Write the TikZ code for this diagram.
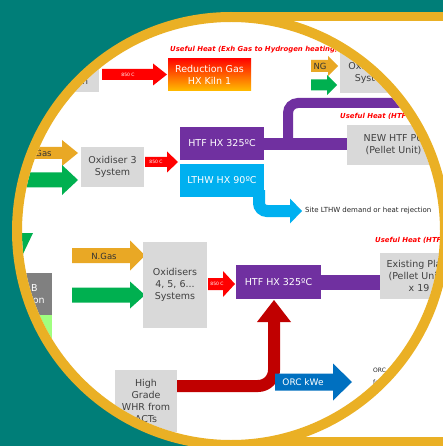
\documentclass[tikz,border=0pt]{standalone}
\usepackage{fontspec}
\setmainfont{DejaVu Sans}
\definecolor{tealbg}{HTML}{007E78}
\definecolor{goldring}{HTML}{EAB025}
\definecolor{boxgrey}{HTML}{D9D9D9}
\definecolor{purp}{HTML}{7030A0}
\definecolor{lblue}{HTML}{00B0F0}
\definecolor{gasgold}{HTML}{E9A825}
\definecolor{grn}{HTML}{00B050}
\definecolor{dred}{HTML}{C00000}
\definecolor{orcblue}{HTML}{0070C0}
\definecolor{txtgrey}{HTML}{404040}
\definecolor{darkbox}{HTML}{808080}
\definecolor{palegreen}{HTML}{A0FF80}
% block arrow pointing right: colour, x tail, x tip, x head start, y centre, body half, head half
\newcommand{\barR}[7]{\fill[#1] (#2,#5-#6) -- (#4,#5-#6) -- (#4,#5-#7) -- (#3,#5) -- (#4,#5+#7) -- (#4,#5+#6) -- (#2,#5+#6) -- cycle;}
\tikzset{
  gbox/.style={fill=boxgrey, text=txtgrey, align=center, inner sep=0pt, font=\fontsize{9.5}{12}\selectfont},
  wtxt/.style={text=white, align=center, inner sep=0pt, font=\fontsize{9.5}{12}\selectfont},
  tinylbl/.style={text=white, inner sep=0pt, font=\fontsize{4.5}{5}\selectfont},
  useful/.style={text=red, inner sep=0pt, anchor=west, font=\fontsize{6.9}{8}\selectfont\bfseries\itshape},
  arrlbl/.style={text=black!80, inner sep=0pt, font=\fontsize{8.5}{10}\selectfont},
}
\begin{document}
\begin{tikzpicture}[x=1pt,y=-1pt]
\clip (0,0) rectangle (443,446);
\fill[tealbg] (0,0) rectangle (443,446);
% framed panel behind
\fill[goldring] (231,12) rectangle (460,460);
\fill[white] (231,21) rectangle (460,437);
% circle
\fill[white] (231,231) circle[radius=214pt];
\begin{scope}
\clip (231,231) circle[radius=209pt];
% ---------- row 1
\node[gbox, minimum width=69pt, minimum height=34pt] (kiln) at (64.5,75) {Kiln 1\\Reduction};
\barR{red}{102}{167}{153}{74.5}{5.5}{11}
\node[tinylbl] (t850a) at (128,75) {850 C};
\node[wtxt, minimum width=83pt, minimum height=32pt, top color=red!95!orange, bottom color={rgb,255:red,255;green,190;blue,0}] (redgas) at (209.5,75) {Reduction Gas\\HX Kiln 1};
\node[useful] (uh1) at (170,50) {Useful Heat (Exh Gas to Hydrogen heating)};
\barR{gasgold}{311}{338}{328}{66}{6}{10}
\node[arrlbl] (ng) at (320,66) {NG};
\barR{grn}{311}{337}{327}{85}{5.5}{10}
\node[gbox, minimum width=65pt, minimum height=40pt] (ox2) at (372.5,73) {Oxidiser 2\\System};
% ---------- row 2
\node[gbox, minimum width=63pt, minimum height=40pt] (ox3) at (112.5,167) {Oxidiser 3\\System};
\barR{gasgold}{-10}{78}{62}{153}{6}{13}
\node[arrlbl] (ngas1) at (39,153) {N.Gas};
\barR{grn}{-10}{78}{62}{180}{7.5}{15}
\barR{red}{145}{178}{167}{162}{5}{10.5}
\node[tinylbl] (t850b) at (156,162) {850 C};
\node[wtxt, fill=purp, minimum width=84pt, minimum height=33pt] (htf1) at (222,143.5) {HTF HX 325ºC};
\node[wtxt, fill=lblue, minimum width=84pt, minimum height=33pt] (lthw) at (222,180.5) {LTHW HX 90ºC};
\node[gbox, minimum width=93pt, minimum height=40pt] (newhtf) at (393.5,145) {NEW HTF PU\\(Pellet Unit)};
\draw[purp, line width=12pt] (htf1.east |- 0,144) -- (newhtf.west |- 0,144);
\draw[purp, line width=10pt, rounded corners=10pt] (288,144) -- (288,103) -- (470,103);
\node[useful] (uh2) at (340,116) {Useful Heat (HTF to Pellet Unit)};
\draw[lblue, line width=12pt, rounded corners=8pt] (259,190) -- (259,211) -- (291,211);
\fill[lblue] (290,198.5) -- (302,211) -- (290,223.5) -- cycle;
\node[text=black!85, inner sep=0pt, anchor=west, font=\fontsize{7}{8}\selectfont] (site) at (305,211) {Site LTHW demand or heat rejection};
% ---------- row 3
\node[useful] (uh3) at (375,240) {Useful Heat (HTF to Pellet Units)};
\fill[grn] (4,200) -- (14,200) -- (14,233) -- (33,233) -- (22,256) -- (4,233) -- cycle;
\node[wtxt, fill=darkbox, minimum width=62pt, minimum height=42pt] (kilnb) at (21,294) {Kiln 1B\\Reduction};
\fill[palegreen] (-10,315) rectangle (52,352);
\barR{gasgold}{72}{145}{130}{255.5}{7.5}{15}
\node[arrlbl] (ngas2) at (104,256) {N.Gas};
\barR{grn}{72}{145}{130}{295}{7.5}{13.5}
\node[gbox, minimum width=64pt, minimum height=86pt] (ox4) at (175,285) {Oxidisers\\4, 5, 6...\\Systems};
\barR{red}{208}{235}{223}{284}{6}{13}
\node[tinylbl] (t850c) at (217,284) {850 C};
\node[wtxt, fill=purp, minimum width=85pt, minimum height=34pt] (htf2) at (278.5,282) {HTF HX 325ºC};
\node[gbox, minimum width=78pt, minimum height=46pt] (exist) at (419,276) {Existing Plant\\(Pellet Units)\\x 19};
\draw[purp, line width=15pt] (htf2.east |- 0,282.5) -- (exist.west |- 0,282.5);
% ---------- row 4
\node[gbox, minimum width=62pt, minimum height=62pt] (whr) at (146,401) {High\\Grade\\WHR from\\ACTs};
\draw[dred, line width=12pt, rounded corners=16pt] (whr.east |- 0,386) -- (274,386) -- (274,321);
\fill[dred] (257,322) -- (274,300) -- (291,322) -- cycle;
\barR{orcblue}{275}{352}{333}{382}{8.5}{18.5}
\node[wtxt, font=\fontsize{9}{11}\selectfont] (orc) at (303,382) {ORC kWe};
\node[text=black!85, inner sep=0pt, anchor=north west, align=left, font=\fontsize{6}{12}\selectfont] (orct) at (373,368) {ORC power\\for site};
\end{scope}
\draw[goldring, line width=10pt] (231,231) circle[radius=214pt];
\end{tikzpicture}
\end{document}
